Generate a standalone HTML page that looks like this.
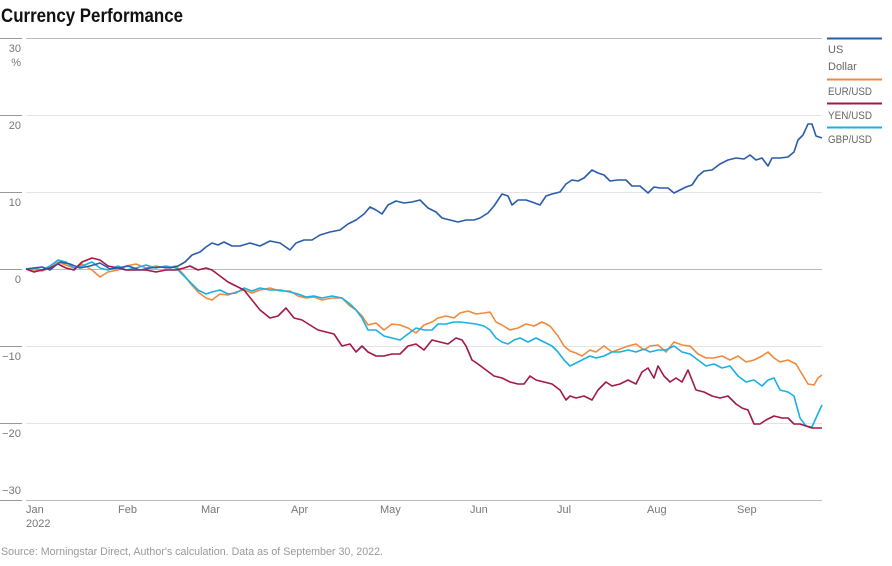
<!DOCTYPE html>
<html><head><meta charset="utf-8"><style>
body{margin:0;background:#fff;width:892px;height:561px;overflow:hidden;font-family:"Liberation Sans",sans-serif}
</style></head><body>
<svg width="892" height="561" xmlns="http://www.w3.org/2000/svg" font-family="Liberation Sans, sans-serif">
<text x="1" y="22" font-size="19" font-weight="bold" fill="#111" textLength="182" lengthAdjust="spacingAndGlyphs">Currency Performance</text>
<g stroke="#e4e4e4" stroke-width="1">
<line x1="26" y1="38.5" x2="822" y2="38.5" stroke="#bbb"/>
<line x1="26" y1="115.5" x2="822" y2="115.5"/>
<line x1="26" y1="192.5" x2="822" y2="192.5"/>
<line x1="26" y1="269.5" x2="822" y2="269.5" stroke="#bbb"/>
<line x1="26" y1="346.5" x2="822" y2="346.5"/>
<line x1="26" y1="423.5" x2="822" y2="423.5"/>
<line x1="26" y1="500.5" x2="822" y2="500.5" stroke="#bbb"/>
</g>
<g stroke="#999" stroke-width="1">
<line x1="0" y1="38.5" x2="22" y2="38.5"/><line x1="0" y1="115.5" x2="22" y2="115.5"/><line x1="0" y1="192.5" x2="22" y2="192.5"/><line x1="0" y1="269.5" x2="22" y2="269.5"/><line x1="0" y1="346.5" x2="22" y2="346.5"/><line x1="0" y1="423.5" x2="22" y2="423.5"/><line x1="0" y1="500.5" x2="22" y2="500.5"/>
</g>
<g font-size="11" fill="#777" text-anchor="end">
<text x="21" y="52">30</text><text x="21" y="66">%</text>
<text x="21" y="129">20</text><text x="21" y="206">10</text><text x="21" y="283">0</text>
<text x="21" y="360" textLength="19" lengthAdjust="spacingAndGlyphs">−10</text><text x="21" y="437" textLength="19" lengthAdjust="spacingAndGlyphs">−20</text><text x="21" y="494" textLength="19" lengthAdjust="spacingAndGlyphs">−30</text>
</g>
<g font-size="11" fill="#777">
<text x="26" y="513">Jan</text><text x="26" y="527">2022</text>
<text x="118" y="513">Feb</text><text x="201" y="513">Mar</text><text x="291" y="513">Apr</text>
<text x="380" y="513">May</text><text x="470" y="513">Jun</text><text x="557" y="513">Jul</text>
<text x="647" y="513">Aug</text><text x="737" y="513">Sep</text>
</g>
<text x="1" y="555" font-size="11" fill="#999" textLength="382" lengthAdjust="spacingAndGlyphs">Source: Morningstar Direct, Author's calculation. Data as of September 30, 2022.</text>
<g font-size="11" fill="#666">
<line x1="827" y1="38.5" x2="882" y2="38.5" stroke="#2a5caa" stroke-width="2"/>
<text x="828" y="53">US</text><text x="828" y="70">Dollar</text>
<line x1="827" y1="79.5" x2="882" y2="79.5" stroke="#f28a3c" stroke-width="2"/>
<text x="828" y="95" textLength="44" lengthAdjust="spacingAndGlyphs">EUR/USD</text>
<line x1="827" y1="103.5" x2="882" y2="103.5" stroke="#a3174a" stroke-width="2"/>
<text x="828" y="119" textLength="44" lengthAdjust="spacingAndGlyphs">YEN/USD</text>
<line x1="827" y1="127.5" x2="882" y2="127.5" stroke="#1ab0e6" stroke-width="2"/>
<text x="828" y="143" textLength="44" lengthAdjust="spacingAndGlyphs">GBP/USD</text>
</g>
<g fill="none" stroke-width="1.6" stroke-linejoin="round">
<polyline stroke="#f28a3c" points="26,269 34,270 42,271 50,268 58,262 66,265 74,268 82,264 92,270 100,277 108,272 118,270 126,266 136,264 146,268 156,266 166,268 176,266 184,275 190,283 198,292 206,298 212,300 220,294 228,295 236,292 244,290 252,293 260,290 270,288 280,291 290,291 298,296 306,298 314,297 322,300 332,298 342,298 350,306 356,310 362,316 368,325 376,323 384,330 392,324 400,325 408,328 416,333 424,325 432,322 438,318 446,316 454,318 460,313 468,311 476,314 484,313 490,312 496,322 502,325 510,330 518,328 526,324 534,326 542,322 550,326 558,336 564,346 570,351 576,353 582,356 590,350 596,352 604,346 612,352 620,349 628,346 636,344 644,350 650,346 658,345 666,352 674,342 682,345 690,346 698,354 706,358 714,358 722,356 730,360 738,356 746,362 754,360 762,356 768,352 774,358 780,362 788,360 796,364 802,374 808,384 814,385 818,378 822,375"/>
<polyline stroke="#1ab0e6" points="26,269 34,268 42,270 50,266 58,260 66,262 74,268 82,266 92,262 100,268 108,270 118,266 126,270 136,268 146,265 156,268 166,266 176,268 184,276 190,282 198,290 206,294 212,292 220,290 228,294 236,293 244,288 252,291 260,288 270,290 280,290 290,292 298,294 306,297 314,296 322,298 332,296 342,298 350,304 356,310 362,318 368,330 376,330 384,336 392,338 400,340 408,334 416,328 424,330 432,330 438,324 446,324 454,322 460,322 468,323 476,324 484,326 490,330 496,338 502,342 508,344 514,340 520,338 528,342 536,338 544,342 552,346 558,352 564,360 570,366 576,363 582,360 590,356 596,358 604,356 612,352 620,352 628,350 636,352 644,349 650,352 658,350 666,350 674,346 682,352 690,354 698,360 706,366 714,364 722,368 730,366 738,376 746,382 754,380 762,386 768,380 774,378 780,390 788,392 794,396 800,418 806,426 812,427 816,418 822,405"/>
<polyline stroke="#a3174a" points="26,269 34,272 42,270 50,268 58,264 66,268 74,270 82,262 92,258 100,260 108,266 118,268 126,270 136,270 146,270 156,272 166,270 176,270 184,268 190,266 198,270 206,268 212,270 220,276 228,282 236,286 244,290 252,300 260,310 270,318 278,316 286,308 294,318 302,320 310,325 318,330 326,332 334,334 342,346 350,344 356,352 362,346 368,352 376,356 384,356 392,354 400,354 408,346 416,344 424,350 432,340 440,342 448,344 456,338 462,340 466,346 472,360 478,364 486,370 494,376 502,378 510,382 518,384 524,384 530,376 536,380 544,382 552,384 560,390 566,400 570,396 576,398 584,396 592,400 598,390 606,382 612,386 620,384 628,380 636,384 642,372 648,368 654,378 658,366 664,376 670,382 676,378 682,382 688,370 696,390 704,392 712,396 720,398 728,396 736,404 742,408 748,410 754,424 760,424 766,420 774,416 782,418 788,418 794,424 800,424 806,426 812,428 822,428"/>
<polyline stroke="#2a5caa" points="26,269 34,268 42,267 50,270 60,262 70,264 80,268 90,266 100,263 110,269 118,268 128,266 140,270 150,268 160,267 170,268 178,266 185,262 192,255 200,252 206,247 212,243 218,245 224,242 232,246 240,246 250,243 260,246 270,241 280,243 290,250 296,243 304,240 312,240 320,235 330,232 340,230 348,224 356,220 364,214 370,207 376,210 382,214 388,205 396,201 404,203 412,202 420,200 428,208 436,212 442,218 450,220 458,222 466,220 474,220 480,218 488,213 494,206 502,194 508,196 512,205 518,200 526,200 532,202 540,205 546,196 552,194 560,192 566,184 572,180 578,181 584,178 592,170 598,173 604,175 610,181 618,180 626,180 632,186 640,186 648,193 654,187 660,188 668,188 674,193 680,190 686,187 692,185 698,176 704,171 712,170 720,164 728,160 736,158 744,159 750,155 756,160 762,158 768,166 772,158 780,158 788,157 794,152 798,140 803,135 808,124 812,124 816,136 822,138"/>
</g>
</svg>
</body></html>
